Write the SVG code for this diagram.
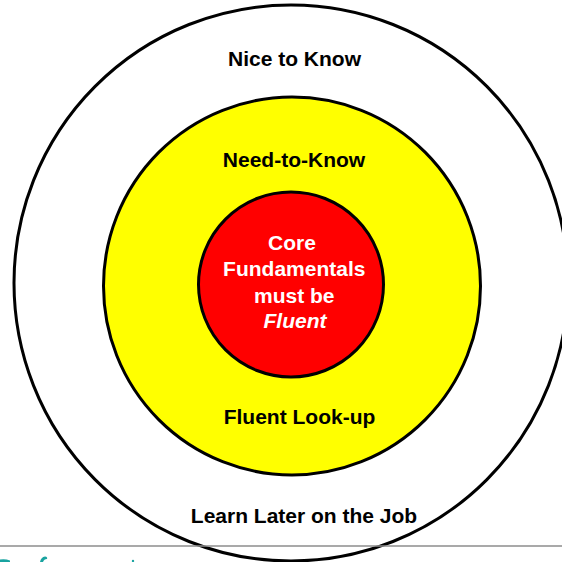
<svg xmlns="http://www.w3.org/2000/svg" width="562" height="562" viewBox="0 0 562 562">
  <style>
    .ring { stroke: #000; stroke-width: 3; }
    .label { font-family: "Liberation Sans", Arial, sans-serif; font-size: 21px; font-weight: bold; text-anchor: middle; fill: #000; }
    .core { fill: #fff; }
    .em { font-style: italic; }
    .mark { fill: #19a3a0; }
  </style>
  <rect width="562" height="562" fill="#fff"/>

  <!-- outer ring: later on the job -->
  <g id="nice-to-know">
    <ellipse class="ring" cx="291" cy="283" rx="277" ry="278" fill="#fff"/>
    <text class="label" x="294.5" y="66">Nice to Know</text>
    <text class="label" x="304" y="523">Learn Later on the Job</text>
  </g>

  <!-- middle ring -->
  <g id="need-to-know">
    <ellipse class="ring" cx="292" cy="286" rx="188.5" ry="189" fill="#ffff00"/>
    <text class="label" x="294" y="167">Need-to-Know</text>
    <text class="label" x="299.5" y="424">Fluent Look-up</text>
  </g>

  <!-- inner core -->
  <g id="core-fundamentals">
    <ellipse class="ring" cx="291" cy="284.5" rx="92.5" ry="92.5" fill="#ff0000"/>
    <text class="label core" x="292" y="250">Core</text>
    <text class="label core" x="294.3" y="276">Fundamentals</text>
    <text class="label core" x="294.3" y="302.5">must be</text>
    <text class="label core em" x="295" y="328">Fluent</text>
  </g>

  <g id="connectors"/>

  <!-- footer rule and clipped logo marks -->
  <g id="footer">
    <line x1="0" y1="546" x2="562" y2="546" stroke="#8c8c8c" stroke-width="1.5"/>
    <path class="mark" d="M0 559.5 Q5 558.5 10 560.5 L10 562 L0 562 Z"/>
    <path class="mark" d="M40 562 Q41 557 45 556.5 Q48 557 47 559 Q44 559 43 562 Z"/>
    <circle class="mark" cx="133" cy="561" r="1.2"/>
  </g>
</svg>
